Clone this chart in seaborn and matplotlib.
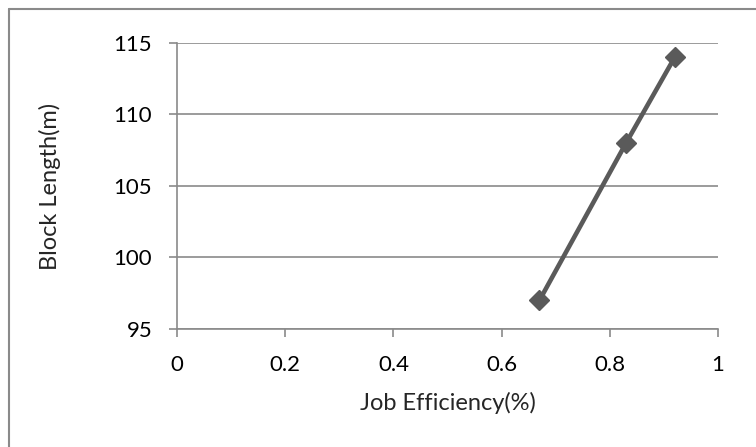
import matplotlib
matplotlib.use("Agg")
import matplotlib.pyplot as plt
import seaborn as sns
import pandas as pd

# Block length vs job efficiency
efficiency = [0.67, 0.83, 0.92]
block_length = [97, 108, 114]
x_ticks = [0, 0.2, 0.4, 0.6, 0.8, 1]
x_labels = ["0", "0.2", "0.4", "0.6", "0.8", "1"]
y_ticks = [95, 100, 105, 110, 115]

df = pd.DataFrame({"eff": efficiency, "len": block_length})

sns.set_style("white")
plt.rcParams["font.family"] = ["Lato", "DejaVu Sans"]

fig = plt.figure(figsize=(7.56, 4.47), dpi=100)
ax = fig.add_axes([0.2341, 0.2640, 0.7156, 0.6398])

sns.lineplot(data=df, x="eff", y="len", ax=ax, color="#5a5a5a", linewidth=3.3,
             marker="D", markersize=10.5, markeredgecolor="#5a5a5a",
             markeredgewidth=1)

ax.set_xlim(0, 1)
ax.set_ylim(95, 115)
ax.set_xticks(x_ticks)
ax.set_xticklabels(x_labels)
ax.set_yticks(y_ticks)
ax.yaxis.grid(True, color="#8a8a8a", linewidth=1.2)
ax.set_axisbelow(True)

for s in ["top", "right"]:
    ax.spines[s].set_visible(False)
for s in ["left", "bottom"]:
    ax.spines[s].set_color("#8a8a8a")
    ax.spines[s].set_linewidth(1.2)

ax.tick_params(axis="both", direction="out", length=5.8, width=1.2,
               color="#8a8a8a", labelsize=16, labelcolor="black",
               bottom=True, left=True)
ax.tick_params(axis="x", pad=13)
ax.tick_params(axis="y", pad=12)
ax.set_xlabel("Job Efficiency(%)", fontsize=17, labelpad=12)
ax.set_ylabel("Block Length(m)", fontsize=17, labelpad=38)

# chart frame: only the top and left edges are visible
fig.add_artist(plt.Line2D([0.0119, 0.0119], [0, 0.9799], transform=fig.transFigure,
                          color="#8a8a8a", linewidth=1.5))
fig.add_artist(plt.Line2D([0.0119, 1], [0.9799, 0.9799], transform=fig.transFigure,
                          color="#8a8a8a", linewidth=1.5))

fig.savefig("out.png", dpi=100)
